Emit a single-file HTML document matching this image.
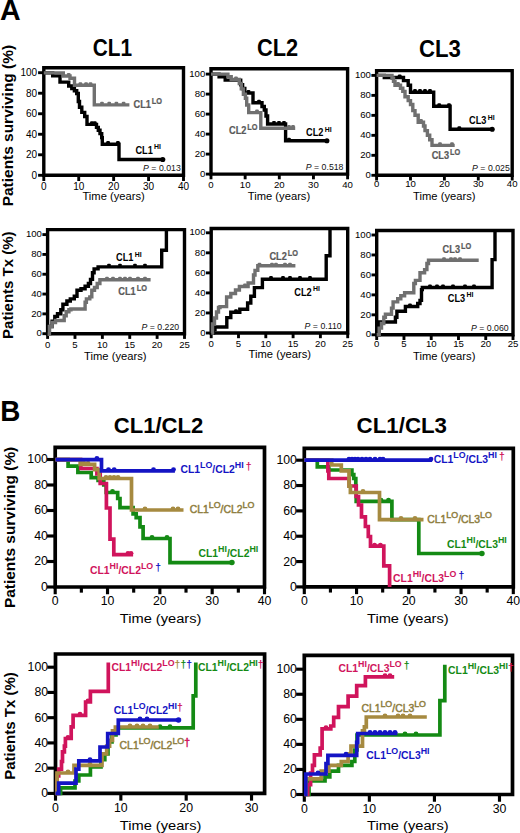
<!DOCTYPE html>
<html><head><meta charset="utf-8"><style>
html,body{margin:0;padding:0;background:#fff;overflow:hidden;}
svg{display:block;}
text{font-family:"Liberation Sans", sans-serif;}
</style></head><body>
<svg width="520" height="833" viewBox="0 0 520 833">
<rect width="520" height="833" fill="#fff"/>
<text transform="translate(0.0,19.6) scale(1.06,1.1)" font-size="27" font-weight="bold" fill="#000" text-anchor="start">A</text>
<text transform="translate(0.2,420.9) scale(1.03,1.1)" font-size="27" font-weight="bold" fill="#000" text-anchor="start">B</text>
<text transform="translate(112.4,56.3) scale(1.04,1.155)" font-size="20" font-weight="bold" fill="#000" text-anchor="middle">CL1</text>
<text transform="translate(277.5,56.3) scale(1.09,1.155)" font-size="20" font-weight="bold" fill="#000" text-anchor="middle">CL2</text>
<text transform="translate(439.9,56.5) scale(1.11,1.155)" font-size="20" font-weight="bold" fill="#000" text-anchor="middle">CL3</text>
<text transform="translate(158.5,433.1) scale(1.105,1.12)" font-size="20" font-weight="bold" fill="#000" text-anchor="middle">CL1/CL2</text>
<text transform="translate(401.8,432.8) scale(1.115,1.12)" font-size="20" font-weight="bold" fill="#000" text-anchor="middle">CL1/CL3</text>
<text font-size="15" font-weight="bold" text-anchor="middle" transform="translate(12.7,125.6) rotate(-90) scale(1.03,1)">Patients surviving (%)</text>
<text font-size="15" font-weight="bold" text-anchor="middle" transform="translate(13.4,285.2) rotate(-90) scale(1.0,1)">Patients Tx (%)</text>
<text font-size="15" font-weight="bold" text-anchor="middle" transform="translate(15.0,527.4) rotate(-90) scale(1.03,1)">Patients surviving (%)</text>
<text font-size="15" font-weight="bold" text-anchor="middle" transform="translate(15.2,726.0) rotate(-90) scale(1.0,1)">Patients Tx (%)</text>
<path d="M43.8,175.3 H183.5 V67.7 H43.8 Z" fill="none" stroke="#000" stroke-width="3.4" stroke-linejoin="miter"/>
<line x1="38.099999999999994" y1="175.3" x2="43.8" y2="175.3" stroke="#000" stroke-width="2.8899999999999997"/>
<text x="37.1" y="178.9" font-size="10" font-weight="normal" fill="#000" text-anchor="end" >0</text>
<line x1="38.099999999999994" y1="154.78" x2="43.8" y2="154.78" stroke="#000" stroke-width="2.8899999999999997"/>
<text x="37.1" y="158.38" font-size="10" font-weight="normal" fill="#000" text-anchor="end" >20</text>
<line x1="38.099999999999994" y1="134.26" x2="43.8" y2="134.26" stroke="#000" stroke-width="2.8899999999999997"/>
<text x="37.1" y="137.86" font-size="10" font-weight="normal" fill="#000" text-anchor="end" >40</text>
<line x1="38.099999999999994" y1="113.74" x2="43.8" y2="113.74" stroke="#000" stroke-width="2.8899999999999997"/>
<text x="37.1" y="117.34" font-size="10" font-weight="normal" fill="#000" text-anchor="end" >60</text>
<line x1="38.099999999999994" y1="93.22" x2="43.8" y2="93.22" stroke="#000" stroke-width="2.8899999999999997"/>
<text x="37.1" y="96.82" font-size="10" font-weight="normal" fill="#000" text-anchor="end" >80</text>
<line x1="38.099999999999994" y1="72.7" x2="43.8" y2="72.7" stroke="#000" stroke-width="2.8899999999999997"/>
<text x="37.1" y="76.3" font-size="10" font-weight="normal" fill="#000" text-anchor="end" >100</text>
<line x1="43.8" y1="175.3" x2="43.8" y2="181.0" stroke="#000" stroke-width="2.8899999999999997"/>
<text x="43.8" y="190.0" font-size="10" font-weight="normal" fill="#000" text-anchor="middle" >0</text>
<line x1="78.72" y1="175.3" x2="78.72" y2="181.0" stroke="#000" stroke-width="2.8899999999999997"/>
<text x="78.72" y="190.0" font-size="10" font-weight="normal" fill="#000" text-anchor="middle" >10</text>
<line x1="113.65" y1="175.3" x2="113.65" y2="181.0" stroke="#000" stroke-width="2.8899999999999997"/>
<text x="113.65" y="190.0" font-size="10" font-weight="normal" fill="#000" text-anchor="middle" >20</text>
<line x1="148.57" y1="175.3" x2="148.57" y2="181.0" stroke="#000" stroke-width="2.8899999999999997"/>
<text x="148.57" y="190.0" font-size="10" font-weight="normal" fill="#000" text-anchor="middle" >30</text>
<line x1="183.5" y1="175.3" x2="183.5" y2="181.0" stroke="#000" stroke-width="2.8899999999999997"/>
<text x="183.5" y="190.0" font-size="10" font-weight="normal" fill="#000" text-anchor="middle" >40</text>
<path d="M211.0,174.1 H347.6 V68.8 H211.0 Z" fill="none" stroke="#000" stroke-width="3.4" stroke-linejoin="miter"/>
<line x1="205.8" y1="174.1" x2="211.0" y2="174.1" stroke="#000" stroke-width="2.8899999999999997"/>
<text x="205.3" y="176.79" font-size="9.6" font-weight="normal" fill="#000" text-anchor="end" >0</text>
<line x1="205.8" y1="154.1" x2="211.0" y2="154.1" stroke="#000" stroke-width="2.8899999999999997"/>
<text x="205.3" y="156.79" font-size="9.6" font-weight="normal" fill="#000" text-anchor="end" >20</text>
<line x1="205.8" y1="134.1" x2="211.0" y2="134.1" stroke="#000" stroke-width="2.8899999999999997"/>
<text x="205.3" y="136.79" font-size="9.6" font-weight="normal" fill="#000" text-anchor="end" >40</text>
<line x1="205.8" y1="114.1" x2="211.0" y2="114.1" stroke="#000" stroke-width="2.8899999999999997"/>
<text x="205.3" y="116.79" font-size="9.6" font-weight="normal" fill="#000" text-anchor="end" >60</text>
<line x1="205.8" y1="94.1" x2="211.0" y2="94.1" stroke="#000" stroke-width="2.8899999999999997"/>
<text x="205.3" y="96.79" font-size="9.6" font-weight="normal" fill="#000" text-anchor="end" >80</text>
<line x1="205.8" y1="74.1" x2="211.0" y2="74.1" stroke="#000" stroke-width="2.8899999999999997"/>
<text x="205.3" y="76.79" font-size="9.6" font-weight="normal" fill="#000" text-anchor="end" >100</text>
<line x1="211.0" y1="174.1" x2="211.0" y2="179.29999999999998" stroke="#000" stroke-width="2.8899999999999997"/>
<text x="211.0" y="188.3" font-size="9.6" font-weight="normal" fill="#000" text-anchor="middle" >0</text>
<line x1="245.15" y1="174.1" x2="245.15" y2="179.29999999999998" stroke="#000" stroke-width="2.8899999999999997"/>
<text x="245.15" y="188.3" font-size="9.6" font-weight="normal" fill="#000" text-anchor="middle" >10</text>
<line x1="279.3" y1="174.1" x2="279.3" y2="179.29999999999998" stroke="#000" stroke-width="2.8899999999999997"/>
<text x="279.3" y="188.3" font-size="9.6" font-weight="normal" fill="#000" text-anchor="middle" >20</text>
<line x1="313.45" y1="174.1" x2="313.45" y2="179.29999999999998" stroke="#000" stroke-width="2.8899999999999997"/>
<text x="313.45" y="188.3" font-size="9.6" font-weight="normal" fill="#000" text-anchor="middle" >30</text>
<line x1="347.6" y1="174.1" x2="347.6" y2="179.29999999999998" stroke="#000" stroke-width="2.8899999999999997"/>
<text x="347.6" y="188.3" font-size="9.6" font-weight="normal" fill="#000" text-anchor="middle" >40</text>
<path d="M376.6,175.3 H512.2 V70.6 H376.6 Z" fill="none" stroke="#000" stroke-width="3.4" stroke-linejoin="miter"/>
<line x1="371.40000000000003" y1="175.3" x2="376.6" y2="175.3" stroke="#000" stroke-width="2.8899999999999997"/>
<text x="370.9" y="177.99" font-size="9.6" font-weight="normal" fill="#000" text-anchor="end" >0</text>
<line x1="371.40000000000003" y1="155.32" x2="376.6" y2="155.32" stroke="#000" stroke-width="2.8899999999999997"/>
<text x="370.9" y="158.01" font-size="9.6" font-weight="normal" fill="#000" text-anchor="end" >20</text>
<line x1="371.40000000000003" y1="135.34" x2="376.6" y2="135.34" stroke="#000" stroke-width="2.8899999999999997"/>
<text x="370.9" y="138.03" font-size="9.6" font-weight="normal" fill="#000" text-anchor="end" >40</text>
<line x1="371.40000000000003" y1="115.36" x2="376.6" y2="115.36" stroke="#000" stroke-width="2.8899999999999997"/>
<text x="370.9" y="118.05" font-size="9.6" font-weight="normal" fill="#000" text-anchor="end" >60</text>
<line x1="371.40000000000003" y1="95.38" x2="376.6" y2="95.38" stroke="#000" stroke-width="2.8899999999999997"/>
<text x="370.9" y="98.07" font-size="9.6" font-weight="normal" fill="#000" text-anchor="end" >80</text>
<line x1="371.40000000000003" y1="75.4" x2="376.6" y2="75.4" stroke="#000" stroke-width="2.8899999999999997"/>
<text x="370.9" y="78.09" font-size="9.6" font-weight="normal" fill="#000" text-anchor="end" >100</text>
<line x1="376.6" y1="175.3" x2="376.6" y2="180.5" stroke="#000" stroke-width="2.8899999999999997"/>
<text x="376.6" y="187.3" font-size="9.6" font-weight="normal" fill="#000" text-anchor="middle" >0</text>
<line x1="410.5" y1="175.3" x2="410.5" y2="180.5" stroke="#000" stroke-width="2.8899999999999997"/>
<text x="410.5" y="187.3" font-size="9.6" font-weight="normal" fill="#000" text-anchor="middle" >10</text>
<line x1="444.4" y1="175.3" x2="444.4" y2="180.5" stroke="#000" stroke-width="2.8899999999999997"/>
<text x="444.4" y="187.3" font-size="9.6" font-weight="normal" fill="#000" text-anchor="middle" >20</text>
<line x1="478.3" y1="175.3" x2="478.3" y2="180.5" stroke="#000" stroke-width="2.8899999999999997"/>
<text x="478.3" y="187.3" font-size="9.6" font-weight="normal" fill="#000" text-anchor="middle" >30</text>
<line x1="512.2" y1="175.3" x2="512.2" y2="180.5" stroke="#000" stroke-width="2.8899999999999997"/>
<text x="512.2" y="187.3" font-size="9.6" font-weight="normal" fill="#000" text-anchor="middle" >40</text>
<path d="M47.6,333.7 H184.5 V229.6 H47.6 Z" fill="none" stroke="#000" stroke-width="3.4" stroke-linejoin="miter"/>
<line x1="42.4" y1="333.7" x2="47.6" y2="333.7" stroke="#000" stroke-width="2.8899999999999997"/>
<text x="41.9" y="336.39" font-size="9.6" font-weight="normal" fill="#000" text-anchor="end" >0</text>
<line x1="42.4" y1="313.88" x2="47.6" y2="313.88" stroke="#000" stroke-width="2.8899999999999997"/>
<text x="41.9" y="316.57" font-size="9.6" font-weight="normal" fill="#000" text-anchor="end" >20</text>
<line x1="42.4" y1="294.06" x2="47.6" y2="294.06" stroke="#000" stroke-width="2.8899999999999997"/>
<text x="41.9" y="296.75" font-size="9.6" font-weight="normal" fill="#000" text-anchor="end" >40</text>
<line x1="42.4" y1="274.24" x2="47.6" y2="274.24" stroke="#000" stroke-width="2.8899999999999997"/>
<text x="41.9" y="276.93" font-size="9.6" font-weight="normal" fill="#000" text-anchor="end" >60</text>
<line x1="42.4" y1="254.42" x2="47.6" y2="254.42" stroke="#000" stroke-width="2.8899999999999997"/>
<text x="41.9" y="257.11" font-size="9.6" font-weight="normal" fill="#000" text-anchor="end" >80</text>
<line x1="42.4" y1="234.6" x2="47.6" y2="234.6" stroke="#000" stroke-width="2.8899999999999997"/>
<text x="41.9" y="237.29" font-size="9.6" font-weight="normal" fill="#000" text-anchor="end" >100</text>
<line x1="47.6" y1="333.7" x2="47.6" y2="338.9" stroke="#000" stroke-width="2.8899999999999997"/>
<text x="47.6" y="347.9" font-size="9.6" font-weight="normal" fill="#000" text-anchor="middle" >0</text>
<line x1="74.98" y1="333.7" x2="74.98" y2="338.9" stroke="#000" stroke-width="2.8899999999999997"/>
<text x="74.98" y="347.9" font-size="9.6" font-weight="normal" fill="#000" text-anchor="middle" >5</text>
<line x1="102.36" y1="333.7" x2="102.36" y2="338.9" stroke="#000" stroke-width="2.8899999999999997"/>
<text x="102.36" y="347.9" font-size="9.6" font-weight="normal" fill="#000" text-anchor="middle" >10</text>
<line x1="129.74" y1="333.7" x2="129.74" y2="338.9" stroke="#000" stroke-width="2.8899999999999997"/>
<text x="129.74" y="347.9" font-size="9.6" font-weight="normal" fill="#000" text-anchor="middle" >15</text>
<line x1="157.12" y1="333.7" x2="157.12" y2="338.9" stroke="#000" stroke-width="2.8899999999999997"/>
<text x="157.12" y="347.9" font-size="9.6" font-weight="normal" fill="#000" text-anchor="middle" >20</text>
<line x1="184.5" y1="333.7" x2="184.5" y2="338.9" stroke="#000" stroke-width="2.8899999999999997"/>
<text x="184.5" y="347.9" font-size="9.6" font-weight="normal" fill="#000" text-anchor="middle" >25</text>
<path d="M211.2,333.0 H347.7 V228.5 H211.2 Z" fill="none" stroke="#000" stroke-width="3.4" stroke-linejoin="miter"/>
<line x1="206.0" y1="333.0" x2="211.2" y2="333.0" stroke="#000" stroke-width="2.8899999999999997"/>
<text x="205.5" y="335.69" font-size="9.6" font-weight="normal" fill="#000" text-anchor="end" >0</text>
<line x1="206.0" y1="312.96" x2="211.2" y2="312.96" stroke="#000" stroke-width="2.8899999999999997"/>
<text x="205.5" y="315.65" font-size="9.6" font-weight="normal" fill="#000" text-anchor="end" >20</text>
<line x1="206.0" y1="292.92" x2="211.2" y2="292.92" stroke="#000" stroke-width="2.8899999999999997"/>
<text x="205.5" y="295.61" font-size="9.6" font-weight="normal" fill="#000" text-anchor="end" >40</text>
<line x1="206.0" y1="272.88" x2="211.2" y2="272.88" stroke="#000" stroke-width="2.8899999999999997"/>
<text x="205.5" y="275.57" font-size="9.6" font-weight="normal" fill="#000" text-anchor="end" >60</text>
<line x1="206.0" y1="252.84" x2="211.2" y2="252.84" stroke="#000" stroke-width="2.8899999999999997"/>
<text x="205.5" y="255.53" font-size="9.6" font-weight="normal" fill="#000" text-anchor="end" >80</text>
<line x1="206.0" y1="232.8" x2="211.2" y2="232.8" stroke="#000" stroke-width="2.8899999999999997"/>
<text x="205.5" y="235.49" font-size="9.6" font-weight="normal" fill="#000" text-anchor="end" >100</text>
<line x1="211.2" y1="333.0" x2="211.2" y2="338.2" stroke="#000" stroke-width="2.8899999999999997"/>
<text x="211.2" y="347.2" font-size="9.6" font-weight="normal" fill="#000" text-anchor="middle" >0</text>
<line x1="238.5" y1="333.0" x2="238.5" y2="338.2" stroke="#000" stroke-width="2.8899999999999997"/>
<text x="238.5" y="347.2" font-size="9.6" font-weight="normal" fill="#000" text-anchor="middle" >5</text>
<line x1="265.8" y1="333.0" x2="265.8" y2="338.2" stroke="#000" stroke-width="2.8899999999999997"/>
<text x="265.8" y="347.2" font-size="9.6" font-weight="normal" fill="#000" text-anchor="middle" >10</text>
<line x1="293.1" y1="333.0" x2="293.1" y2="338.2" stroke="#000" stroke-width="2.8899999999999997"/>
<text x="293.1" y="347.2" font-size="9.6" font-weight="normal" fill="#000" text-anchor="middle" >15</text>
<line x1="320.4" y1="333.0" x2="320.4" y2="338.2" stroke="#000" stroke-width="2.8899999999999997"/>
<text x="320.4" y="347.2" font-size="9.6" font-weight="normal" fill="#000" text-anchor="middle" >20</text>
<line x1="347.7" y1="333.0" x2="347.7" y2="338.2" stroke="#000" stroke-width="2.8899999999999997"/>
<text x="347.7" y="347.2" font-size="9.6" font-weight="normal" fill="#000" text-anchor="middle" >25</text>
<path d="M376.7,334.8 H513.0 V230.5 H376.7 Z" fill="none" stroke="#000" stroke-width="3.4" stroke-linejoin="miter"/>
<line x1="371.5" y1="334.8" x2="376.7" y2="334.8" stroke="#000" stroke-width="2.8899999999999997"/>
<text x="371.0" y="337.49" font-size="9.6" font-weight="normal" fill="#000" text-anchor="end" >0</text>
<line x1="371.5" y1="314.84" x2="376.7" y2="314.84" stroke="#000" stroke-width="2.8899999999999997"/>
<text x="371.0" y="317.53" font-size="9.6" font-weight="normal" fill="#000" text-anchor="end" >20</text>
<line x1="371.5" y1="294.88" x2="376.7" y2="294.88" stroke="#000" stroke-width="2.8899999999999997"/>
<text x="371.0" y="297.57" font-size="9.6" font-weight="normal" fill="#000" text-anchor="end" >40</text>
<line x1="371.5" y1="274.92" x2="376.7" y2="274.92" stroke="#000" stroke-width="2.8899999999999997"/>
<text x="371.0" y="277.61" font-size="9.6" font-weight="normal" fill="#000" text-anchor="end" >60</text>
<line x1="371.5" y1="254.96" x2="376.7" y2="254.96" stroke="#000" stroke-width="2.8899999999999997"/>
<text x="371.0" y="257.65" font-size="9.6" font-weight="normal" fill="#000" text-anchor="end" >80</text>
<line x1="371.5" y1="235.0" x2="376.7" y2="235.0" stroke="#000" stroke-width="2.8899999999999997"/>
<text x="371.0" y="237.69" font-size="9.6" font-weight="normal" fill="#000" text-anchor="end" >100</text>
<line x1="376.7" y1="334.8" x2="376.7" y2="340.0" stroke="#000" stroke-width="2.8899999999999997"/>
<text x="376.7" y="347.3" font-size="9.6" font-weight="normal" fill="#000" text-anchor="middle" >0</text>
<line x1="403.96" y1="334.8" x2="403.96" y2="340.0" stroke="#000" stroke-width="2.8899999999999997"/>
<text x="403.96" y="347.3" font-size="9.6" font-weight="normal" fill="#000" text-anchor="middle" >5</text>
<line x1="431.22" y1="334.8" x2="431.22" y2="340.0" stroke="#000" stroke-width="2.8899999999999997"/>
<text x="431.22" y="347.3" font-size="9.6" font-weight="normal" fill="#000" text-anchor="middle" >10</text>
<line x1="458.48" y1="334.8" x2="458.48" y2="340.0" stroke="#000" stroke-width="2.8899999999999997"/>
<text x="458.48" y="347.3" font-size="9.6" font-weight="normal" fill="#000" text-anchor="middle" >15</text>
<line x1="485.74" y1="334.8" x2="485.74" y2="340.0" stroke="#000" stroke-width="2.8899999999999997"/>
<text x="485.74" y="347.3" font-size="9.6" font-weight="normal" fill="#000" text-anchor="middle" >20</text>
<line x1="513.0" y1="334.8" x2="513.0" y2="340.0" stroke="#000" stroke-width="2.8899999999999997"/>
<text x="513.0" y="347.3" font-size="9.6" font-weight="normal" fill="#000" text-anchor="middle" >25</text>
<path d="M55.2,587.0 H264.5 V447.4 H55.2 Z" fill="none" stroke="#000" stroke-width="3.7" stroke-linejoin="miter"/>
<line x1="47.050000000000004" y1="587.0" x2="55.2" y2="587.0" stroke="#000" stroke-width="3.145"/>
<text x="47.85" y="590.94" font-size="12.3" font-weight="normal" fill="#000" text-anchor="end" >0</text>
<line x1="47.050000000000004" y1="561.5" x2="55.2" y2="561.5" stroke="#000" stroke-width="3.145"/>
<text x="47.85" y="565.44" font-size="12.3" font-weight="normal" fill="#000" text-anchor="end" >20</text>
<line x1="47.050000000000004" y1="536.0" x2="55.2" y2="536.0" stroke="#000" stroke-width="3.145"/>
<text x="47.85" y="539.94" font-size="12.3" font-weight="normal" fill="#000" text-anchor="end" >40</text>
<line x1="47.050000000000004" y1="510.5" x2="55.2" y2="510.5" stroke="#000" stroke-width="3.145"/>
<text x="47.85" y="514.44" font-size="12.3" font-weight="normal" fill="#000" text-anchor="end" >60</text>
<line x1="47.050000000000004" y1="485.0" x2="55.2" y2="485.0" stroke="#000" stroke-width="3.145"/>
<text x="47.85" y="488.94" font-size="12.3" font-weight="normal" fill="#000" text-anchor="end" >80</text>
<line x1="47.050000000000004" y1="459.5" x2="55.2" y2="459.5" stroke="#000" stroke-width="3.145"/>
<text x="47.85" y="463.44" font-size="12.3" font-weight="normal" fill="#000" text-anchor="end" >100</text>
<line x1="55.2" y1="587.0" x2="55.2" y2="594.25" stroke="#000" stroke-width="3.145"/>
<text x="55.2" y="605.25" font-size="12.3" font-weight="normal" fill="#000" text-anchor="middle" >0</text>
<line x1="107.53" y1="587.0" x2="107.53" y2="594.25" stroke="#000" stroke-width="3.145"/>
<text x="107.53" y="605.25" font-size="12.3" font-weight="normal" fill="#000" text-anchor="middle" >10</text>
<line x1="159.85" y1="587.0" x2="159.85" y2="594.25" stroke="#000" stroke-width="3.145"/>
<text x="159.85" y="605.25" font-size="12.3" font-weight="normal" fill="#000" text-anchor="middle" >20</text>
<line x1="212.18" y1="587.0" x2="212.18" y2="594.25" stroke="#000" stroke-width="3.145"/>
<text x="212.18" y="605.25" font-size="12.3" font-weight="normal" fill="#000" text-anchor="middle" >30</text>
<line x1="264.5" y1="587.0" x2="264.5" y2="594.25" stroke="#000" stroke-width="3.145"/>
<text x="264.5" y="605.25" font-size="12.3" font-weight="normal" fill="#000" text-anchor="middle" >40</text>
<line x1="81.36" y1="587.0" x2="81.36" y2="592.65" stroke="#000" stroke-width="3.145"/>
<line x1="133.69" y1="587.0" x2="133.69" y2="592.65" stroke="#000" stroke-width="3.145"/>
<line x1="186.01" y1="587.0" x2="186.01" y2="592.65" stroke="#000" stroke-width="3.145"/>
<line x1="238.34" y1="587.0" x2="238.34" y2="592.65" stroke="#000" stroke-width="3.145"/>
<path d="M304.3,586.9 H513.3 V448.3 H304.3 Z" fill="none" stroke="#000" stroke-width="3.7" stroke-linejoin="miter"/>
<line x1="296.15" y1="586.9" x2="304.3" y2="586.9" stroke="#000" stroke-width="3.145"/>
<text x="296.95" y="590.84" font-size="12.3" font-weight="normal" fill="#000" text-anchor="end" >0</text>
<line x1="296.15" y1="561.56" x2="304.3" y2="561.56" stroke="#000" stroke-width="3.145"/>
<text x="296.95" y="565.5" font-size="12.3" font-weight="normal" fill="#000" text-anchor="end" >20</text>
<line x1="296.15" y1="536.22" x2="304.3" y2="536.22" stroke="#000" stroke-width="3.145"/>
<text x="296.95" y="540.16" font-size="12.3" font-weight="normal" fill="#000" text-anchor="end" >40</text>
<line x1="296.15" y1="510.88" x2="304.3" y2="510.88" stroke="#000" stroke-width="3.145"/>
<text x="296.95" y="514.82" font-size="12.3" font-weight="normal" fill="#000" text-anchor="end" >60</text>
<line x1="296.15" y1="485.54" x2="304.3" y2="485.54" stroke="#000" stroke-width="3.145"/>
<text x="296.95" y="489.48" font-size="12.3" font-weight="normal" fill="#000" text-anchor="end" >80</text>
<line x1="296.15" y1="460.2" x2="304.3" y2="460.2" stroke="#000" stroke-width="3.145"/>
<text x="296.95" y="464.14" font-size="12.3" font-weight="normal" fill="#000" text-anchor="end" >100</text>
<line x1="304.3" y1="586.9" x2="304.3" y2="594.15" stroke="#000" stroke-width="3.145"/>
<text x="304.3" y="605.15" font-size="12.3" font-weight="normal" fill="#000" text-anchor="middle" >0</text>
<line x1="356.55" y1="586.9" x2="356.55" y2="594.15" stroke="#000" stroke-width="3.145"/>
<text x="356.55" y="605.15" font-size="12.3" font-weight="normal" fill="#000" text-anchor="middle" >10</text>
<line x1="408.8" y1="586.9" x2="408.8" y2="594.15" stroke="#000" stroke-width="3.145"/>
<text x="408.8" y="605.15" font-size="12.3" font-weight="normal" fill="#000" text-anchor="middle" >20</text>
<line x1="461.05" y1="586.9" x2="461.05" y2="594.15" stroke="#000" stroke-width="3.145"/>
<text x="461.05" y="605.15" font-size="12.3" font-weight="normal" fill="#000" text-anchor="middle" >30</text>
<line x1="513.3" y1="586.9" x2="513.3" y2="594.15" stroke="#000" stroke-width="3.145"/>
<text x="513.3" y="605.15" font-size="12.3" font-weight="normal" fill="#000" text-anchor="middle" >40</text>
<line x1="330.43" y1="586.9" x2="330.43" y2="592.55" stroke="#000" stroke-width="3.145"/>
<line x1="382.67" y1="586.9" x2="382.67" y2="592.55" stroke="#000" stroke-width="3.145"/>
<line x1="434.92" y1="586.9" x2="434.92" y2="592.55" stroke="#000" stroke-width="3.145"/>
<line x1="487.17" y1="586.9" x2="487.17" y2="592.55" stroke="#000" stroke-width="3.145"/>
<path d="M55.5,793.4 H264.6 V654.0 H55.5 Z" fill="none" stroke="#000" stroke-width="3.7" stroke-linejoin="miter"/>
<line x1="47.35" y1="793.4" x2="55.5" y2="793.4" stroke="#000" stroke-width="3.145"/>
<text x="48.15" y="797.34" font-size="12.3" font-weight="normal" fill="#000" text-anchor="end" >0</text>
<line x1="47.35" y1="768.16" x2="55.5" y2="768.16" stroke="#000" stroke-width="3.145"/>
<text x="48.15" y="772.1" font-size="12.3" font-weight="normal" fill="#000" text-anchor="end" >20</text>
<line x1="47.35" y1="742.92" x2="55.5" y2="742.92" stroke="#000" stroke-width="3.145"/>
<text x="48.15" y="746.86" font-size="12.3" font-weight="normal" fill="#000" text-anchor="end" >40</text>
<line x1="47.35" y1="717.68" x2="55.5" y2="717.68" stroke="#000" stroke-width="3.145"/>
<text x="48.15" y="721.62" font-size="12.3" font-weight="normal" fill="#000" text-anchor="end" >60</text>
<line x1="47.35" y1="692.44" x2="55.5" y2="692.44" stroke="#000" stroke-width="3.145"/>
<text x="48.15" y="696.38" font-size="12.3" font-weight="normal" fill="#000" text-anchor="end" >80</text>
<line x1="47.35" y1="667.2" x2="55.5" y2="667.2" stroke="#000" stroke-width="3.145"/>
<text x="48.15" y="671.14" font-size="12.3" font-weight="normal" fill="#000" text-anchor="end" >100</text>
<line x1="55.5" y1="793.4" x2="55.5" y2="800.65" stroke="#000" stroke-width="3.145"/>
<text x="55.5" y="811.65" font-size="12.3" font-weight="normal" fill="#000" text-anchor="middle" >0</text>
<line x1="120.84" y1="793.4" x2="120.84" y2="800.65" stroke="#000" stroke-width="3.145"/>
<text x="120.84" y="811.65" font-size="12.3" font-weight="normal" fill="#000" text-anchor="middle" >10</text>
<line x1="186.19" y1="793.4" x2="186.19" y2="800.65" stroke="#000" stroke-width="3.145"/>
<text x="186.19" y="811.65" font-size="12.3" font-weight="normal" fill="#000" text-anchor="middle" >20</text>
<line x1="251.53" y1="793.4" x2="251.53" y2="800.65" stroke="#000" stroke-width="3.145"/>
<text x="251.53" y="811.65" font-size="12.3" font-weight="normal" fill="#000" text-anchor="middle" >30</text>
<path d="M304.3,794.5 H512.5 V655.4 H304.3 Z" fill="none" stroke="#000" stroke-width="3.7" stroke-linejoin="miter"/>
<line x1="296.15" y1="794.5" x2="304.3" y2="794.5" stroke="#000" stroke-width="3.145"/>
<text x="296.95" y="798.44" font-size="12.3" font-weight="normal" fill="#000" text-anchor="end" >0</text>
<line x1="296.15" y1="769.44" x2="304.3" y2="769.44" stroke="#000" stroke-width="3.145"/>
<text x="296.95" y="773.38" font-size="12.3" font-weight="normal" fill="#000" text-anchor="end" >20</text>
<line x1="296.15" y1="744.38" x2="304.3" y2="744.38" stroke="#000" stroke-width="3.145"/>
<text x="296.95" y="748.32" font-size="12.3" font-weight="normal" fill="#000" text-anchor="end" >40</text>
<line x1="296.15" y1="719.32" x2="304.3" y2="719.32" stroke="#000" stroke-width="3.145"/>
<text x="296.95" y="723.26" font-size="12.3" font-weight="normal" fill="#000" text-anchor="end" >60</text>
<line x1="296.15" y1="694.26" x2="304.3" y2="694.26" stroke="#000" stroke-width="3.145"/>
<text x="296.95" y="698.2" font-size="12.3" font-weight="normal" fill="#000" text-anchor="end" >80</text>
<line x1="296.15" y1="669.2" x2="304.3" y2="669.2" stroke="#000" stroke-width="3.145"/>
<text x="296.95" y="673.14" font-size="12.3" font-weight="normal" fill="#000" text-anchor="end" >100</text>
<line x1="304.3" y1="794.5" x2="304.3" y2="801.75" stroke="#000" stroke-width="3.145"/>
<text x="304.3" y="812.75" font-size="12.3" font-weight="normal" fill="#000" text-anchor="middle" >0</text>
<line x1="369.36" y1="794.5" x2="369.36" y2="801.75" stroke="#000" stroke-width="3.145"/>
<text x="369.36" y="812.75" font-size="12.3" font-weight="normal" fill="#000" text-anchor="middle" >10</text>
<line x1="434.43" y1="794.5" x2="434.43" y2="801.75" stroke="#000" stroke-width="3.145"/>
<text x="434.43" y="812.75" font-size="12.3" font-weight="normal" fill="#000" text-anchor="middle" >20</text>
<line x1="499.49" y1="794.5" x2="499.49" y2="801.75" stroke="#000" stroke-width="3.145"/>
<text x="499.49" y="812.75" font-size="12.3" font-weight="normal" fill="#000" text-anchor="middle" >30</text>
<text x="113.6" y="200.4" font-size="11.2" font-weight="normal" fill="#000" text-anchor="middle" >Time (years)</text>
<text x="279.0" y="199.9" font-size="11.2" font-weight="normal" fill="#000" text-anchor="middle" >Time (years)</text>
<text x="444.3" y="200.3" font-size="11.2" font-weight="normal" fill="#000" text-anchor="middle" >Time (years)</text>
<text x="115.3" y="359.8" font-size="11.2" font-weight="normal" fill="#000" text-anchor="middle" >Time (years)</text>
<text x="279.8" y="358.4" font-size="11.2" font-weight="normal" fill="#000" text-anchor="middle" >Time (years)</text>
<text x="444.2" y="360.2" font-size="11.2" font-weight="normal" fill="#000" text-anchor="middle" >Time (years)</text>
<text transform="translate(160.6,622.6) scale(1.07,1.0)" font-size="13.7" font-weight="normal" fill="#000" text-anchor="middle">Time (years)</text>
<text transform="translate(407.8,622.6) scale(1.07,1.0)" font-size="13.7" font-weight="normal" fill="#000" text-anchor="middle">Time (years)</text>
<text transform="translate(160.6,829.7) scale(1.07,1.0)" font-size="13.7" font-weight="normal" fill="#000" text-anchor="middle">Time (years)</text>
<text transform="translate(407.8,829.7) scale(1.07,1.0)" font-size="13.7" font-weight="normal" fill="#000" text-anchor="middle">Time (years)</text>
<path d="M43.8,72.9 H52.7 V75.9 H60 V82.1 H68.7 V86 H71.8 V88.5 H74.4 V90.8 H76.7 V93.5 H78.3 V101.5 H79.5 V107.2 H81.8 V112.4 H84.7 V116.5 H87 V124.4 H96.5 V127.4 H98.3 V130.3 H100 V133.6 H101.7 V137.6 H102.3 V144.2 H119 V159.5 H162.8" fill="none" stroke="#000" stroke-width="3.4" stroke-linejoin="miter" stroke-linecap="butt"/>
<rect x="90.0" y="121.3" width="3.8" height="2.4" rx="1.2" fill="#000"/>
<rect x="92.9" y="121.3" width="3.8" height="2.4" rx="1.2" fill="#000"/>
<rect x="106.2" y="141.1" width="3.8" height="2.4" rx="1.2" fill="#000"/>
<rect x="116.0" y="141.1" width="3.8" height="2.4" rx="1.2" fill="#000"/>
<circle cx="162.8" cy="159.5" r="2.55" fill="#000"/>
<path d="M43.8,72.9 H63.3 V76 H70 V78.3 H74.5 V85.3 H94.3 V104.9 H129.4" fill="none" stroke="#707070" stroke-width="3.4" stroke-linejoin="miter" stroke-linecap="butt"/>
<rect x="66.8" y="72.9" width="3.8" height="2.4" rx="1.2" fill="#707070"/>
<rect x="78.5" y="82.2" width="3.8" height="2.4" rx="1.2" fill="#707070"/>
<rect x="84.2" y="82.2" width="3.8" height="2.4" rx="1.2" fill="#707070"/>
<rect x="88.6" y="82.2" width="3.8" height="2.4" rx="1.2" fill="#707070"/>
<rect x="100.1" y="101.8" width="3.8" height="2.4" rx="1.2" fill="#707070"/>
<rect x="107.3" y="101.8" width="3.8" height="2.4" rx="1.2" fill="#707070"/>
<rect x="114.5" y="101.8" width="3.8" height="2.4" rx="1.2" fill="#707070"/>
<rect x="121.7" y="101.8" width="3.8" height="2.4" rx="1.2" fill="#707070"/>
<text transform="translate(133.5,107.9) scale(0.97,1.08)" font-size="9.5" font-weight="bold" fill="#5a5a5a" stroke="#5a5a5a" stroke-width="0.2"><tspan>CL1</tspan><tspan dy="-3.8" dx="1.0" font-size="7.6">LO</tspan></text>
<text transform="translate(135.4,153.8) scale(0.97,1.12)" font-size="9.5" font-weight="bold" fill="#000"><tspan>CL1</tspan><tspan dy="-4.08" dx="1.3" font-size="7.12">HI</tspan></text>
<path d="M211,74.1 H219.1 V76.8 H225.2 V80.1 H240.7 V84.8 H242.6 V88.5 H244.8 V93 H253 V102.8 H262 V106.5 H264.3 V110 H266 V116 H267.6 V124 H285.6 V140.8 H326.9" fill="none" stroke="#000" stroke-width="3.4" stroke-linejoin="miter" stroke-linecap="butt"/>
<rect x="246.6" y="89.9" width="3.8" height="2.4" rx="1.2" fill="#000"/>
<rect x="257.1" y="99.7" width="3.8" height="2.4" rx="1.2" fill="#000"/>
<rect x="272.1" y="120.9" width="3.8" height="2.4" rx="1.2" fill="#000"/>
<rect x="277.1" y="120.9" width="3.8" height="2.4" rx="1.2" fill="#000"/>
<rect x="282.1" y="120.9" width="3.8" height="2.4" rx="1.2" fill="#000"/>
<rect x="287.1" y="137.7" width="3.8" height="2.4" rx="1.2" fill="#000"/>
<circle cx="326.9" cy="140.8" r="2.55" fill="#000"/>
<path d="M211,74.1 H227.9 V76.8 H231.2 V79.5 H239.3 V83.5 H241.3 V88.9 H243.4 V94.3 H245.4 V98.3 H246.7 V105 H248.7 V112.6 H260.8 V128.2 H295.2" fill="none" stroke="#707070" stroke-width="3.4" stroke-linejoin="miter" stroke-linecap="butt"/>
<rect x="234.1" y="76.4" width="3.8" height="2.4" rx="1.2" fill="#707070"/>
<rect x="255.1" y="109.5" width="3.8" height="2.4" rx="1.2" fill="#707070"/>
<rect x="287.1" y="125.1" width="3.8" height="2.4" rx="1.2" fill="#707070"/>
<rect x="291.1" y="125.1" width="3.8" height="2.4" rx="1.2" fill="#707070"/>
<text transform="translate(229.0,134.4) scale(0.97,1.08)" font-size="9.5" font-weight="bold" fill="#5a5a5a" stroke="#5a5a5a" stroke-width="0.2"><tspan>CL2</tspan><tspan dy="-3.8" dx="1.0" font-size="7.6">LO</tspan></text>
<text transform="translate(306.1,136.2) scale(0.97,1.12)" font-size="9.5" font-weight="bold" fill="#000"><tspan>CL2</tspan><tspan dy="-4.08" dx="1.3" font-size="7.12">HI</tspan></text>
<path d="M376.6,75.4 H384.3 V77.5 H403.5 V80.6 H408.2 V85.2 H410.5 V92.2 H433.7 V106.3 H450.1 V129.3 H492.2" fill="none" stroke="#000" stroke-width="3.4" stroke-linejoin="miter" stroke-linecap="butt"/>
<rect x="397.8" y="74.4" width="3.8" height="2.4" rx="1.2" fill="#000"/>
<rect x="413.1" y="89.1" width="3.8" height="2.4" rx="1.2" fill="#000"/>
<rect x="418.1" y="89.1" width="3.8" height="2.4" rx="1.2" fill="#000"/>
<rect x="423.1" y="89.1" width="3.8" height="2.4" rx="1.2" fill="#000"/>
<rect x="428.1" y="89.1" width="3.8" height="2.4" rx="1.2" fill="#000"/>
<rect x="437.3" y="103.2" width="3.8" height="2.4" rx="1.2" fill="#000"/>
<rect x="447.1" y="103.2" width="3.8" height="2.4" rx="1.2" fill="#000"/>
<rect x="457.4" y="126.2" width="3.8" height="2.4" rx="1.2" fill="#000"/>
<circle cx="492.2" cy="129.3" r="2.55" fill="#000"/>
<path d="M376.6,75.4 H392 V78.3 H393.5 V81.4 H395 V85.2 H400.5 V88.3 H402.8 V91.4 H405 V96.8 H408.2 V100.6 H410.5 V104.5 H412.8 V110.6 H415 V115.2 H418.2 V122.2 H423.5 V126 H425 V130.6 H427.4 V135.2 H429.7 V139.8 H432 V145.4 H454.7" fill="none" stroke="#707070" stroke-width="3.4" stroke-linejoin="miter" stroke-linecap="butt"/>
<rect x="396.1" y="82.1" width="3.8" height="2.4" rx="1.2" fill="#707070"/>
<rect x="419.1" y="119.1" width="3.8" height="2.4" rx="1.2" fill="#707070"/>
<rect x="438.1" y="142.3" width="3.8" height="2.4" rx="1.2" fill="#707070"/>
<rect x="450.1" y="142.3" width="3.8" height="2.4" rx="1.2" fill="#707070"/>
<text transform="translate(431.7,159.4) scale(0.97,1.08)" font-size="9.5" font-weight="bold" fill="#5a5a5a" stroke="#5a5a5a" stroke-width="0.2"><tspan>CL3</tspan><tspan dy="-3.8" dx="1.0" font-size="7.6">LO</tspan></text>
<text transform="translate(469.1,124.2) scale(0.97,1.12)" font-size="9.5" font-weight="bold" fill="#000"><tspan>CL3</tspan><tspan dy="-4.08" dx="1.3" font-size="7.12">HI</tspan></text>
<path d="M47.6,334.2 H49.4 V326.5 H52.1 V321.1 H54.8 V316.4 H57.5 V313.7 H60.8 V309.7 H62.9 V304.3 H66.9 V301 H70.3 V298.9 H74.3 V296.2 H77 V290.2 H81 V288.8 H85.1 V286.2 H88.4 V283.5 H90.5 V279.4 H92.5 V272.7 H94.1 V268.9 H98.1 V266.9 H161.7 V250.2 H166.4 V230" fill="none" stroke="#000" stroke-width="3.4" stroke-linejoin="miter" stroke-linecap="butt"/>
<rect x="107.1" y="263.8" width="3.8" height="2.4" rx="1.2" fill="#000"/>
<rect x="118.1" y="263.8" width="3.8" height="2.4" rx="1.2" fill="#000"/>
<rect x="133.1" y="263.8" width="3.8" height="2.4" rx="1.2" fill="#000"/>
<rect x="143.1" y="263.8" width="3.8" height="2.4" rx="1.2" fill="#000"/>
<path d="M47.6,334.2 H49.4 V326.5 H52.1 V322.5 H55.5 V320.5 H64.2 V315.8 H66.2 V311.7 H68.9 V309.7 H70.9 V309 H85.1 V302.3 H86.4 V298.9 H89.8 V296.9 H91.8 V290.2 H94.5 V287.5 H97.2 V283.5 H99.9 V279.8 H150.6" fill="none" stroke="#707070" stroke-width="3.4" stroke-linejoin="miter" stroke-linecap="butt"/>
<rect x="105.1" y="276.7" width="3.8" height="2.4" rx="1.2" fill="#707070"/>
<rect x="111.1" y="276.7" width="3.8" height="2.4" rx="1.2" fill="#707070"/>
<rect x="118.1" y="276.7" width="3.8" height="2.4" rx="1.2" fill="#707070"/>
<rect x="123.1" y="276.7" width="3.8" height="2.4" rx="1.2" fill="#707070"/>
<rect x="128.1" y="276.7" width="3.8" height="2.4" rx="1.2" fill="#707070"/>
<rect x="136.1" y="276.7" width="3.8" height="2.4" rx="1.2" fill="#707070"/>
<rect x="143.1" y="276.7" width="3.8" height="2.4" rx="1.2" fill="#707070"/>
<text transform="translate(118.3,295.1) scale(0.97,1.08)" font-size="9.5" font-weight="bold" fill="#5a5a5a" stroke="#5a5a5a" stroke-width="0.2"><tspan>CL1</tspan><tspan dy="-3.8" dx="1.0" font-size="7.6">LO</tspan></text>
<text transform="translate(116.1,261.3) scale(0.97,1.12)" font-size="9.5" font-weight="bold" fill="#000"><tspan>CL1</tspan><tspan dy="-4.08" dx="1.3" font-size="7.12">HI</tspan></text>
<path d="M211.2,333 H213.5 V329.6 H215 V327 H226.8 V317.6 H230.8 V312.3 H239.8 V309.3 H247.6 V303 H250.8 V296.3 H254.4 V287.6 H262.4 V279.2 H326.2 V255.8 H330 V229" fill="none" stroke="#000" stroke-width="3.4" stroke-linejoin="miter" stroke-linecap="butt"/>
<rect x="234.1" y="309.2" width="3.8" height="2.4" rx="1.2" fill="#000"/>
<rect x="269.1" y="276.1" width="3.8" height="2.4" rx="1.2" fill="#000"/>
<rect x="281.1" y="276.1" width="3.8" height="2.4" rx="1.2" fill="#000"/>
<rect x="288.1" y="276.1" width="3.8" height="2.4" rx="1.2" fill="#000"/>
<rect x="298.1" y="276.1" width="3.8" height="2.4" rx="1.2" fill="#000"/>
<rect x="308.1" y="276.1" width="3.8" height="2.4" rx="1.2" fill="#000"/>
<path d="M211.2,333 H212.5 V324 H214.5 V318 H216.5 V312 H218.5 V307.5 H220 V306.6 H226.6 V297 H230.8 V293.5 H235.5 V290 H239.4 V286.5 H248.1 V283 H253.5 V275 H255 V270.4 H257.8 V265.8 H295.4" fill="none" stroke="#707070" stroke-width="3.4" stroke-linejoin="miter" stroke-linecap="butt"/>
<rect x="243.1" y="283.4" width="3.8" height="2.4" rx="1.2" fill="#707070"/>
<rect x="257.6" y="262.7" width="3.8" height="2.4" rx="1.2" fill="#707070"/>
<rect x="270.1" y="262.7" width="3.8" height="2.4" rx="1.2" fill="#707070"/>
<rect x="274.1" y="262.7" width="3.8" height="2.4" rx="1.2" fill="#707070"/>
<rect x="283.1" y="262.7" width="3.8" height="2.4" rx="1.2" fill="#707070"/>
<rect x="288.1" y="262.7" width="3.8" height="2.4" rx="1.2" fill="#707070"/>
<text transform="translate(269.4,260.0) scale(0.97,1.08)" font-size="9.5" font-weight="bold" fill="#5a5a5a" stroke="#5a5a5a" stroke-width="0.2"><tspan>CL2</tspan><tspan dy="-3.8" dx="1.0" font-size="7.6">LO</tspan></text>
<text transform="translate(294.3,295.8) scale(0.97,1.12)" font-size="9.5" font-weight="bold" fill="#000"><tspan>CL2</tspan><tspan dy="-4.08" dx="1.3" font-size="7.12">HI</tspan></text>
<path d="M376.7,334.8 H379.2 V322 H395.4 V317.3 H396.9 V311.2 H405.4 V306.5 H417.7 V303.5 H420 V300.4 H421.5 V289.6 H422.3 V287.5 H492.1 V259.6 H495 V231" fill="none" stroke="#000" stroke-width="3.4" stroke-linejoin="miter" stroke-linecap="butt"/>
<rect x="408.1" y="303.4" width="3.8" height="2.4" rx="1.2" fill="#000"/>
<rect x="428.1" y="284.4" width="3.8" height="2.4" rx="1.2" fill="#000"/>
<rect x="435.1" y="284.4" width="3.8" height="2.4" rx="1.2" fill="#000"/>
<rect x="441.1" y="284.4" width="3.8" height="2.4" rx="1.2" fill="#000"/>
<rect x="451.1" y="284.4" width="3.8" height="2.4" rx="1.2" fill="#000"/>
<rect x="463.1" y="284.4" width="3.8" height="2.4" rx="1.2" fill="#000"/>
<rect x="472.1" y="284.4" width="3.8" height="2.4" rx="1.2" fill="#000"/>
<path d="M376.7,334.8 H379.2 V328.1 H381.5 V323.5 H383.8 V317.3 H385.4 V314.2 H391.5 V308.1 H393.1 V301.9 H397.7 V298.8 H400.8 V295.8 H404.6 V292.7 H413.8 V283.5 H415.4 V280.4 H420 V272.7 H424.6 V269.6 H426.9 V263.5 H428.5 V260.3 H478.7" fill="none" stroke="#707070" stroke-width="3.4" stroke-linejoin="miter" stroke-linecap="butt"/>
<rect x="442.1" y="257.2" width="3.8" height="2.4" rx="1.2" fill="#707070"/>
<rect x="449.1" y="257.2" width="3.8" height="2.4" rx="1.2" fill="#707070"/>
<rect x="453.1" y="257.2" width="3.8" height="2.4" rx="1.2" fill="#707070"/>
<rect x="458.1" y="257.2" width="3.8" height="2.4" rx="1.2" fill="#707070"/>
<text transform="translate(442.6,252.9) scale(0.97,1.08)" font-size="9.5" font-weight="bold" fill="#5a5a5a" stroke="#5a5a5a" stroke-width="0.2"><tspan>CL3</tspan><tspan dy="-3.8" dx="1.0" font-size="7.6">LO</tspan></text>
<text transform="translate(447.8,301.5) scale(0.97,1.12)" font-size="9.5" font-weight="bold" fill="#000"><tspan>CL3</tspan><tspan dy="-4.08" dx="1.3" font-size="7.12">HI</tspan></text>
<text transform="translate(143.1,170.6) scale(1.03,1)" font-size="8.5" fill="#111"><tspan font-style="italic">P</tspan> = 0.013</text>
<text transform="translate(305.8,169.6) scale(1.03,1)" font-size="8.5" fill="#111"><tspan font-style="italic">P</tspan> = 0.518</text>
<text transform="translate(472.1,170.8) scale(1.03,1)" font-size="8.5" fill="#111"><tspan font-style="italic">P</tspan> = 0.025</text>
<text transform="translate(141.5,329.8) scale(1.03,1)" font-size="8.5" fill="#111"><tspan font-style="italic">P</tspan> = 0.220</text>
<text transform="translate(304.6,328.8) scale(1.03,1)" font-size="8.5" fill="#111"><tspan font-style="italic">P</tspan> = 0.110</text>
<text transform="translate(471.0,330.8) scale(1.03,1)" font-size="8.5" fill="#111"><tspan font-style="italic">P</tspan> = 0.060</text>
<path d="M55.5,459.6 H68.1 V466.2 H77.9 V472.5 H91.2 V477.7 H98.1 V480.5 H103.8 V485 H106.2 V492.5 H117.7 V498.5 H120 V507.7 H133.1 V513.8 H136.2 V517.7 H140 V526.9 H143.1 V538.5 H170 V562.6 H231.9" fill="none" stroke="#148a14" stroke-width="3.7" stroke-linejoin="miter" stroke-linecap="butt"/>
<ellipse cx="112.5" cy="491.25" rx="2.4" ry="2.3" fill="#148a14"/>
<ellipse cx="152" cy="537.25" rx="2.4" ry="2.3" fill="#148a14"/>
<ellipse cx="167" cy="537.25" rx="2.4" ry="2.3" fill="#148a14"/>
<circle cx="231.9" cy="562.6" r="2.7750000000000004" fill="#148a14"/>
<path d="M55.5,459.6 H80.8 V468.5 H96.9 V474 H100.2 V483.5 H106.4 V508 H110 V539.2 H113.8 V554.6 H133.1" fill="none" stroke="#d0145c" stroke-width="3.7" stroke-linejoin="miter" stroke-linecap="butt"/>
<ellipse cx="128" cy="553.35" rx="2.4" ry="2.3" fill="#d0145c"/>
<ellipse cx="131" cy="553.35" rx="2.4" ry="2.3" fill="#d0145c"/>
<path d="M55.5,459.6 H80.2 V464.4 H94.6 V469.6 H99.2 V478.5 H131.5 V510 H183.5" fill="none" stroke="#a68a40" stroke-width="3.7" stroke-linejoin="miter" stroke-linecap="butt"/>
<ellipse cx="84" cy="463.15" rx="2.4" ry="2.3" fill="#a68a40"/>
<ellipse cx="88" cy="463.15" rx="2.4" ry="2.3" fill="#a68a40"/>
<ellipse cx="106" cy="477.25" rx="2.4" ry="2.3" fill="#a68a40"/>
<ellipse cx="110" cy="477.25" rx="2.4" ry="2.3" fill="#a68a40"/>
<ellipse cx="114" cy="477.25" rx="2.4" ry="2.3" fill="#a68a40"/>
<ellipse cx="118" cy="477.25" rx="2.4" ry="2.3" fill="#a68a40"/>
<ellipse cx="145" cy="508.75" rx="2.4" ry="2.3" fill="#a68a40"/>
<ellipse cx="173" cy="508.75" rx="2.4" ry="2.3" fill="#a68a40"/>
<ellipse cx="178" cy="508.75" rx="2.4" ry="2.3" fill="#a68a40"/>
<path d="M55.5,459.6 H101.5 V470.8 H174.9" fill="none" stroke="#1414c4" stroke-width="3.7" stroke-linejoin="miter" stroke-linecap="butt"/>
<ellipse cx="96.9" cy="458.35" rx="2.4" ry="2.3" fill="#1414c4"/>
<ellipse cx="108.5" cy="469.55" rx="2.4" ry="2.3" fill="#1414c4"/>
<ellipse cx="114.2" cy="469.55" rx="2.4" ry="2.3" fill="#1414c4"/>
<ellipse cx="153.5" cy="469.55" rx="2.4" ry="2.3" fill="#1414c4"/>
<ellipse cx="173.5" cy="469.55" rx="2.4" ry="2.3" fill="#1414c4"/>
<text transform="translate(180.4,472.8) scale(1.04,1.0)" font-size="10" font-weight="bold" fill="#1414c4"><tspan>CL1</tspan><tspan dy="-5.0" font-size="8.5">LO</tspan><tspan dy="5.0">/CL2</tspan><tspan dy="-5.0" font-size="8.5">HI</tspan><tspan dy="2.0" font-size="10.0" fill="#d0145c"> †</tspan></text>
<text transform="translate(189.7,513.3) scale(1.04,1.0)" font-size="10" font-weight="normal" fill="#8e7d3e" stroke="#8e7d3e" stroke-width="0.45"><tspan>CL1</tspan><tspan dy="-5.0" font-size="8.5">LO</tspan><tspan dy="5.0">/CL2</tspan><tspan dy="-5.0" font-size="8.5">LO</tspan></text>
<text transform="translate(198.5,556.6) scale(1.04,1.0)" font-size="10" font-weight="bold" fill="#148a14"><tspan>CL1</tspan><tspan dy="-5.0" font-size="8.5">HI</tspan><tspan dy="5.0">/CL2</tspan><tspan dy="-5.0" font-size="8.5">HI</tspan></text>
<text transform="translate(90.0,573.8) scale(1.04,1.0)" font-size="10" font-weight="bold" fill="#d0145c"><tspan>CL1</tspan><tspan dy="-5.0" font-size="8.5">HI</tspan><tspan dy="5.0">/CL2</tspan><tspan dy="-5.0" font-size="8.5">LO</tspan><tspan dy="2.0" font-size="10.0" fill="#1414c4"> †</tspan></text>
<path d="M304.3,460.2 H317.3 V466.9 H328.8 V470 H351.9 V474.6 H353.8 V478.5 H355.8 V486.2 H356.2 V501.3 H391.9 V519.6 H418.8 V553.5 H481.9" fill="none" stroke="#148a14" stroke-width="3.7" stroke-linejoin="miter" stroke-linecap="butt"/>
<ellipse cx="381" cy="500.05" rx="2.4" ry="2.3" fill="#148a14"/>
<ellipse cx="388.5" cy="500.05" rx="2.4" ry="2.3" fill="#148a14"/>
<circle cx="481.9" cy="553.5" r="2.7750000000000004" fill="#148a14"/>
<path d="M304.3,460.2 H327.9 V470.8 H328.8 V478.5 H349.2 V486 H356.2 V496.5 H358.5 V505 H361.5 V516.9 H365.4 V526.5 H368.3 V536.5 H370.5 V546.2 H383.8 V565.8 H389.6 V586.9" fill="none" stroke="#d0145c" stroke-width="3.7" stroke-linejoin="miter" stroke-linecap="butt"/>
<ellipse cx="374.6" cy="544.95" rx="2.4" ry="2.3" fill="#d0145c"/>
<ellipse cx="380.4" cy="544.95" rx="2.4" ry="2.3" fill="#d0145c"/>
<path d="M304.3,460.2 H331.7 V465 H341.3 V470.8 H349 V486.2 H350.4 V492.5 H379.5 V519.6 H423.5" fill="none" stroke="#a68a40" stroke-width="3.7" stroke-linejoin="miter" stroke-linecap="butt"/>
<ellipse cx="363" cy="491.25" rx="2.4" ry="2.3" fill="#a68a40"/>
<ellipse cx="401" cy="518.35" rx="2.4" ry="2.3" fill="#a68a40"/>
<ellipse cx="415" cy="518.35" rx="2.4" ry="2.3" fill="#a68a40"/>
<path d="M304.3,460.2 H432.2" fill="none" stroke="#1414c4" stroke-width="3.7" stroke-linejoin="miter" stroke-linecap="butt"/>
<ellipse cx="349" cy="458.95" rx="2.4" ry="2.3" fill="#1414c4"/>
<ellipse cx="352" cy="458.95" rx="2.4" ry="2.3" fill="#1414c4"/>
<ellipse cx="355" cy="458.95" rx="2.4" ry="2.3" fill="#1414c4"/>
<ellipse cx="358" cy="458.95" rx="2.4" ry="2.3" fill="#1414c4"/>
<ellipse cx="362" cy="458.95" rx="2.4" ry="2.3" fill="#1414c4"/>
<ellipse cx="366" cy="458.95" rx="2.4" ry="2.3" fill="#1414c4"/>
<ellipse cx="370" cy="458.95" rx="2.4" ry="2.3" fill="#1414c4"/>
<ellipse cx="375" cy="458.95" rx="2.4" ry="2.3" fill="#1414c4"/>
<ellipse cx="380" cy="458.95" rx="2.4" ry="2.3" fill="#1414c4"/>
<ellipse cx="383" cy="458.95" rx="2.4" ry="2.3" fill="#1414c4"/>
<ellipse cx="431" cy="458.95" rx="2.4" ry="2.3" fill="#1414c4"/>
<text transform="translate(433.7,462.6) scale(1.04,1.0)" font-size="10" font-weight="bold" fill="#1414c4"><tspan>CL1</tspan><tspan dy="-5.0" font-size="8.5">LO</tspan><tspan dy="5.0">/CL3</tspan><tspan dy="-5.0" font-size="8.5">HI</tspan><tspan dy="2.0" font-size="10.0" fill="#d0145c"> †</tspan></text>
<text transform="translate(427.3,522.7) scale(1.04,1.0)" font-size="10" font-weight="normal" fill="#8e7d3e" stroke="#8e7d3e" stroke-width="0.45"><tspan>CL1</tspan><tspan dy="-5.0" font-size="8.5">LO</tspan><tspan dy="5.0">/CL3</tspan><tspan dy="-5.0" font-size="8.5">LO</tspan></text>
<text transform="translate(447.0,548.2) scale(1.04,1.0)" font-size="10" font-weight="bold" fill="#148a14"><tspan>CL1</tspan><tspan dy="-5.0" font-size="8.5">HI</tspan><tspan dy="5.0">/CL3</tspan><tspan dy="-5.0" font-size="8.5">HI</tspan></text>
<text transform="translate(393.1,581.5) scale(1.04,1.0)" font-size="10" font-weight="bold" fill="#d0145c"><tspan>CL1</tspan><tspan dy="-5.0" font-size="8.5">HI</tspan><tspan dy="5.0">/CL3</tspan><tspan dy="-5.0" font-size="8.5">LO</tspan><tspan dy="2.0" font-size="10.0" fill="#1414c4"> †</tspan></text>
<path d="M55.5,793.4 H60.6 V787.8 H75 V781 H78.8 V775 H90.4 V767 H101 V759.6 H104.8 V753.8 H108 V742 H112 V735 H116 V727.8 H193.2 V695.8 H195.8 V662.5" fill="none" stroke="#148a14" stroke-width="3.7" stroke-linejoin="miter" stroke-linecap="butt"/>
<ellipse cx="160" cy="726.55" rx="2.4" ry="2.3" fill="#148a14"/>
<ellipse cx="170" cy="726.55" rx="2.4" ry="2.3" fill="#148a14"/>
<path d="M55.5,793.4 H57 V776 H58.7 V769.2 H61.5 V761.5 H62.5 V751.9 H64.4 V746.2 H65.4 V738.5 H71.2 V726.9 H73.1 V715.4 H85.6 V702 H90.4 V691.3 H108.3 V662.5" fill="none" stroke="#d0145c" stroke-width="3.7" stroke-linejoin="miter" stroke-linecap="butt"/>
<ellipse cx="68" cy="737.25" rx="2.4" ry="2.3" fill="#d0145c"/>
<ellipse cx="80" cy="714.15" rx="2.4" ry="2.3" fill="#d0145c"/>
<ellipse cx="88" cy="700.75" rx="2.4" ry="2.3" fill="#d0145c"/>
<path d="M55.5,793.4 H57 V773 H74 V765.4 H102 V753.8 H106.7 V746.2 H109.6 V740.4 H112.5 V730.8 H115.4 V727 H158.8" fill="none" stroke="#a68a40" stroke-width="3.7" stroke-linejoin="miter" stroke-linecap="butt"/>
<ellipse cx="68" cy="771.75" rx="2.4" ry="2.3" fill="#a68a40"/>
<ellipse cx="90" cy="764.15" rx="2.4" ry="2.3" fill="#a68a40"/>
<ellipse cx="130" cy="725.75" rx="2.4" ry="2.3" fill="#a68a40"/>
<ellipse cx="137" cy="725.75" rx="2.4" ry="2.3" fill="#a68a40"/>
<ellipse cx="143" cy="725.75" rx="2.4" ry="2.3" fill="#a68a40"/>
<ellipse cx="150" cy="725.75" rx="2.4" ry="2.3" fill="#a68a40"/>
<path d="M55.5,793.4 H58.7 V783.2 H76 V769.2 H78.8 V760.8 H100 V747 H107.7 V733.5 H118.3 V720 H178.5" fill="none" stroke="#1414c4" stroke-width="3.7" stroke-linejoin="miter" stroke-linecap="butt"/>
<ellipse cx="90" cy="759.55" rx="2.4" ry="2.3" fill="#1414c4"/>
<ellipse cx="140" cy="718.75" rx="2.4" ry="2.3" fill="#1414c4"/>
<ellipse cx="147" cy="718.75" rx="2.4" ry="2.3" fill="#1414c4"/>
<circle cx="178.5" cy="720" r="2.7750000000000004" fill="#1414c4"/>
<text transform="translate(111.4,671.0) scale(1.04,1.0)" font-size="10" font-weight="bold" fill="#d0145c"><tspan>CL1</tspan><tspan dy="-5.0" font-size="8.5">HI</tspan><tspan dy="5.0">/CL2</tspan><tspan dy="-5.0" font-size="8.5">LO</tspan><tspan dy="2.0" font-size="10.0" fill="#a68a40">†</tspan><tspan font-size="10.0" fill="#148a14">†</tspan><tspan font-size="10.0" fill="#1414c4">†</tspan></text>
<text transform="translate(113.7,714.4) scale(1.04,1.0)" font-size="10" font-weight="bold" fill="#1414c4"><tspan>CL1</tspan><tspan dy="-5.0" font-size="8.5">LO</tspan><tspan dy="5.0">/CL2</tspan><tspan dy="-5.0" font-size="8.5">HI</tspan><tspan dy="2.0" font-size="10.0" fill="#d0145c">†</tspan></text>
<text transform="translate(119.6,749.4) scale(1.04,1.0)" font-size="10" font-weight="normal" fill="#8e7d3e" stroke="#8e7d3e" stroke-width="0.45"><tspan>CL1</tspan><tspan dy="-5.0" font-size="8.5">LO</tspan><tspan dy="5.0">/CL2</tspan><tspan dy="-5.0" font-size="8.5">LO</tspan><tspan dy="2.0" font-size="10.0" fill="#d0145c" stroke="#d0145c">†</tspan></text>
<text transform="translate(198.0,671.0) scale(1.04,1.0)" font-size="10" font-weight="bold" fill="#148a14"><tspan>CL1</tspan><tspan dy="-5.0" font-size="8.5">HI</tspan><tspan dy="5.0">/CL2</tspan><tspan dy="-5.0" font-size="8.5">HI</tspan><tspan dy="2.0" font-size="10.0" fill="#d0145c">†</tspan></text>
<path d="M304.3,794.5 H309 V780.8 H325 V776.9 H329.8 V771.2 H338.5 V765.4 H351.9 V761.5 H354.8 V750 H357 V735 H439.9 V700.7 H444.8 V664.7" fill="none" stroke="#148a14" stroke-width="3.7" stroke-linejoin="miter" stroke-linecap="butt"/>
<ellipse cx="405" cy="733.75" rx="2.4" ry="2.3" fill="#148a14"/>
<ellipse cx="416" cy="733.75" rx="2.4" ry="2.3" fill="#148a14"/>
<path d="M304.3,794.5 H307.7 V784.6 H310.6 V773.1 H312.5 V765.4 H314.4 V754.8 H320.2 V748.1 H322.1 V728.8 H330.8 V726 H333.7 V717.3 H338.5 V706.7 H348.1 V696.2 H356.7 V685.6 H365.4 V676.9 H394.2" fill="none" stroke="#d0145c" stroke-width="3.7" stroke-linejoin="miter" stroke-linecap="butt"/>
<ellipse cx="326" cy="727.55" rx="2.4" ry="2.3" fill="#d0145c"/>
<ellipse cx="385" cy="675.65" rx="2.4" ry="2.3" fill="#d0145c"/>
<ellipse cx="390" cy="675.65" rx="2.4" ry="2.3" fill="#d0145c"/>
<path d="M304.3,794.5 H306 V778.8 H321.2 V771.2 H328.8 V765.4 H341.3 V761.5 H348.1 V753.8 H351 V746.2 H362.5 V730.8 H364.4 V726.9 H366.3 V717 H426.8" fill="none" stroke="#a68a40" stroke-width="3.7" stroke-linejoin="miter" stroke-linecap="butt"/>
<ellipse cx="385" cy="715.75" rx="2.4" ry="2.3" fill="#a68a40"/>
<ellipse cx="398" cy="715.75" rx="2.4" ry="2.3" fill="#a68a40"/>
<ellipse cx="403" cy="715.75" rx="2.4" ry="2.3" fill="#a68a40"/>
<ellipse cx="410" cy="715.75" rx="2.4" ry="2.3" fill="#a68a40"/>
<path d="M304.3,794.5 H305.8 V774 H326 V763.5 H327.9 V755.4 H356.7 V742.3 H357.7 V733.5 H397.4" fill="none" stroke="#1414c4" stroke-width="3.7" stroke-linejoin="miter" stroke-linecap="butt"/>
<ellipse cx="318" cy="772.75" rx="2.4" ry="2.3" fill="#1414c4"/>
<ellipse cx="346" cy="754.15" rx="2.4" ry="2.3" fill="#1414c4"/>
<ellipse cx="370" cy="732.25" rx="2.4" ry="2.3" fill="#1414c4"/>
<ellipse cx="375" cy="732.25" rx="2.4" ry="2.3" fill="#1414c4"/>
<ellipse cx="380" cy="732.25" rx="2.4" ry="2.3" fill="#1414c4"/>
<ellipse cx="385" cy="732.25" rx="2.4" ry="2.3" fill="#1414c4"/>
<ellipse cx="390" cy="732.25" rx="2.4" ry="2.3" fill="#1414c4"/>
<ellipse cx="395" cy="732.25" rx="2.4" ry="2.3" fill="#1414c4"/>
<text transform="translate(338.5,671.9) scale(1.04,1.0)" font-size="10" font-weight="bold" fill="#d0145c"><tspan>CL1</tspan><tspan dy="-5.0" font-size="8.5">HI</tspan><tspan dy="5.0">/CL3</tspan><tspan dy="-5.0" font-size="8.5">LO</tspan><tspan dy="2.0" font-size="10.0" fill="#148a14"> †</tspan></text>
<text transform="translate(361.4,711.8) scale(1.04,1.0)" font-size="10" font-weight="normal" fill="#8e7d3e" stroke="#8e7d3e" stroke-width="0.45"><tspan>CL1</tspan><tspan dy="-5.0" font-size="8.5">LO</tspan><tspan dy="5.0">/CL3</tspan><tspan dy="-5.0" font-size="8.5">LO</tspan></text>
<text transform="translate(366.3,758.6) scale(1.04,1.0)" font-size="10" font-weight="bold" fill="#1414c4"><tspan>CL1</tspan><tspan dy="-5.0" font-size="8.5">LO</tspan><tspan dy="5.0">/CL3</tspan><tspan dy="-5.0" font-size="8.5">HI</tspan></text>
<text transform="translate(448.1,674.2) scale(1.04,1.0)" font-size="10" font-weight="bold" fill="#148a14"><tspan>CL1</tspan><tspan dy="-5.0" font-size="8.5">HI</tspan><tspan dy="5.0">/CL3</tspan><tspan dy="-5.0" font-size="8.5">HI</tspan><tspan dy="2.0" font-size="10.0" fill="#d0145c">†</tspan></text>
</svg></body></html>
